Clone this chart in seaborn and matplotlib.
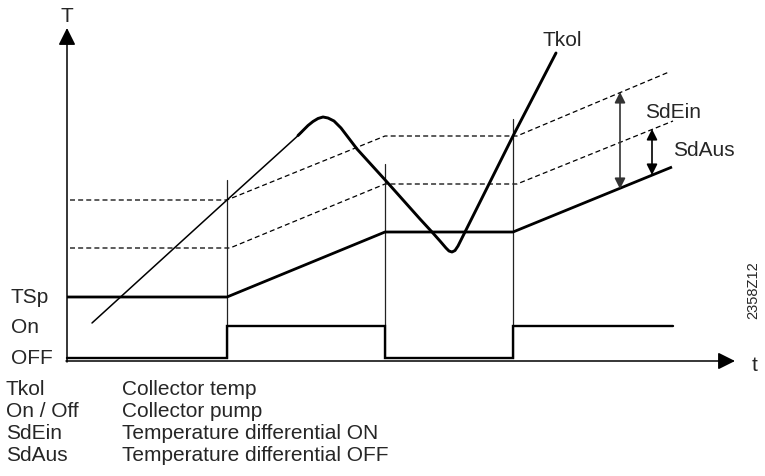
import matplotlib
matplotlib.use("Agg")
import matplotlib.pyplot as plt
import seaborn as sns
import pandas as pd

# Diagram drawn in a 765 x 477 canvas coordinate system (y grows downwards)

# Storage set point TSp (thick line)
tsp_x = [67, 227, 385, 513, 672]
tsp_y = [298, 298, 233, 233, 168]

# Switch-off threshold TSp + SdAus (lower dashed line)
sdaus_x = [70, 230, 385, 517, 673]
sdaus_y = [249, 249, 185, 185, 122]

# Switch-on threshold TSp + SdEin (upper dashed line)
sdein_x = [70, 227, 385, 517, 669]
sdein_y = [201, 201, 137, 137, 73]

# Collector temperature Tkol, rising part (thin)
tkol_rise_x = [92, 227, 280, 302]
tkol_rise_y = [324, 201, 153, 133]

# Collector temperature Tkol, peak, fall, trough and second rise (thick)
tkol_x = [298, 303, 308, 313, 318, 323, 328, 334, 341, 357, 387, 420, 432,
          440, 446, 449, 452, 455, 458, 463, 513, 556]
tkol_y = [136.5, 131.5, 126.5, 122.5, 119.5, 118, 119, 122, 129, 150, 183,
          220, 233, 242, 249, 252, 253, 251.5, 247, 237, 137, 54]

# Collector pump state (On / OFF)
pump_x = [67, 227, 227, 385, 385, 513, 513, 673]
pump_y = [359, 359, 327, 327, 359, 359, 327, 327]

# Switching instants (thin vertical markers) and their top ends
switch_x = [227, 385, 513]
switch_top = [181, 165, 120]
switch_bottom = 359

# Differential arrows: x position, top and bottom
sdein_arrow = (620, 93, 190)
sdaus_arrow = (652, 130, 176)

# Axis geometry
axis_x0, axis_y0 = 67, 362
axis_x_end, axis_y_end = 735, 29

# Labels
level_labels = ["TSp", "On", "OFF"]
level_label_y = [298, 328, 359]

legend_keys = ["Tkol", "On / Off", "SdEin", "SdAus"]
legend_texts = ["Collector temp", "Collector pump",
                "Temperature differential ON", "Temperature differential OFF"]
legend_y = [390, 412, 434, 456]

sns.set_theme(style="white")
plt.rcParams["font.family"] = ["Liberation Sans", "DejaVu Sans"]

fig = plt.figure(figsize=(7.65, 4.77), dpi=100)
ax = fig.add_axes([0, 0, 1, 1])
ax.set_xlim(0, 765)
ax.set_ylim(477, 0)
ax.axis("off")

black = "#000000"


def line(xs, ys, lw, color=black, **kw):
    df = pd.DataFrame({"x": xs, "y": ys})
    sns.lineplot(data=df, x="x", y="y", ax=ax, sort=False, estimator=None,
                 color=color, lw=lw, legend=False, **kw)


# Dashed threshold lines
line(sdein_x, sdein_y, 0.9, linestyle=(0, (4, 2.5)))
line(sdaus_x, sdaus_y, 0.9, linestyle=(0, (4, 2.5)))

# Switching markers
for sx, st in zip(switch_x, switch_top):
    line([sx, sx], [st, switch_bottom], 0.9, color="#222222")

# Set point and pump state
line(tsp_x, tsp_y, 2.0, solid_capstyle="butt")
line(pump_x, pump_y, 1.7, solid_joinstyle="miter")

# Collector temperature
line(tkol_rise_x, tkol_rise_y, 1.1)
line(tkol_x, tkol_y, 2.1, solid_joinstyle="round", solid_capstyle="round")

# Axes with arrow heads
ax.annotate("", xy=(axis_x0, axis_y_end), xytext=(axis_x0, axis_y0 + 1),
            arrowprops=dict(arrowstyle="-|>", color=black, lw=1.1,
                            mutation_scale=26, shrinkA=0, shrinkB=0))
ax.annotate("", xy=(axis_x_end, axis_y0), xytext=(axis_x0 - 1, axis_y0),
            arrowprops=dict(arrowstyle="-|>", color=black, lw=1.1,
                            mutation_scale=26, shrinkA=0, shrinkB=0))

# Differential arrows
for (arr_x, top, bot), col in [(sdein_arrow, "#333333"), (sdaus_arrow, black)]:
    ax.annotate("", xy=(arr_x, top), xytext=(arr_x, bot),
                arrowprops=dict(arrowstyle="<|-|>", color=col, lw=1.2,
                                mutation_scale=16, shrinkA=0, shrinkB=0))

fs = 15
ax.text(axis_x0, 17, "T", fontsize=fs, ha="center", va="center")
ax.text(752, 366, "t", fontsize=fs, ha="left", va="center")
ax.text(543, 40, "Tkol", fontsize=fs, ha="left", va="center")
ax.text(645, 112, "SdEin", fontsize=fs, ha="left", va="center")
ax.text(673, 151, "SdAus", fontsize=fs, ha="left", va="center")
ax.text(753, 290, "2358Z12", fontsize=10.5, ha="center", va="center",
        rotation=90)

for lab, yy in zip(level_labels, level_label_y):
    ax.text(11, yy, lab, fontsize=fs, ha="left", va="center")

for key, txt, yy in zip(legend_keys, legend_texts, legend_y):
    ax.text(6, yy, key, fontsize=fs, ha="left", va="center")
    ax.text(122, yy, txt, fontsize=fs, ha="left", va="center")

fig.savefig("out.png", dpi=100)
